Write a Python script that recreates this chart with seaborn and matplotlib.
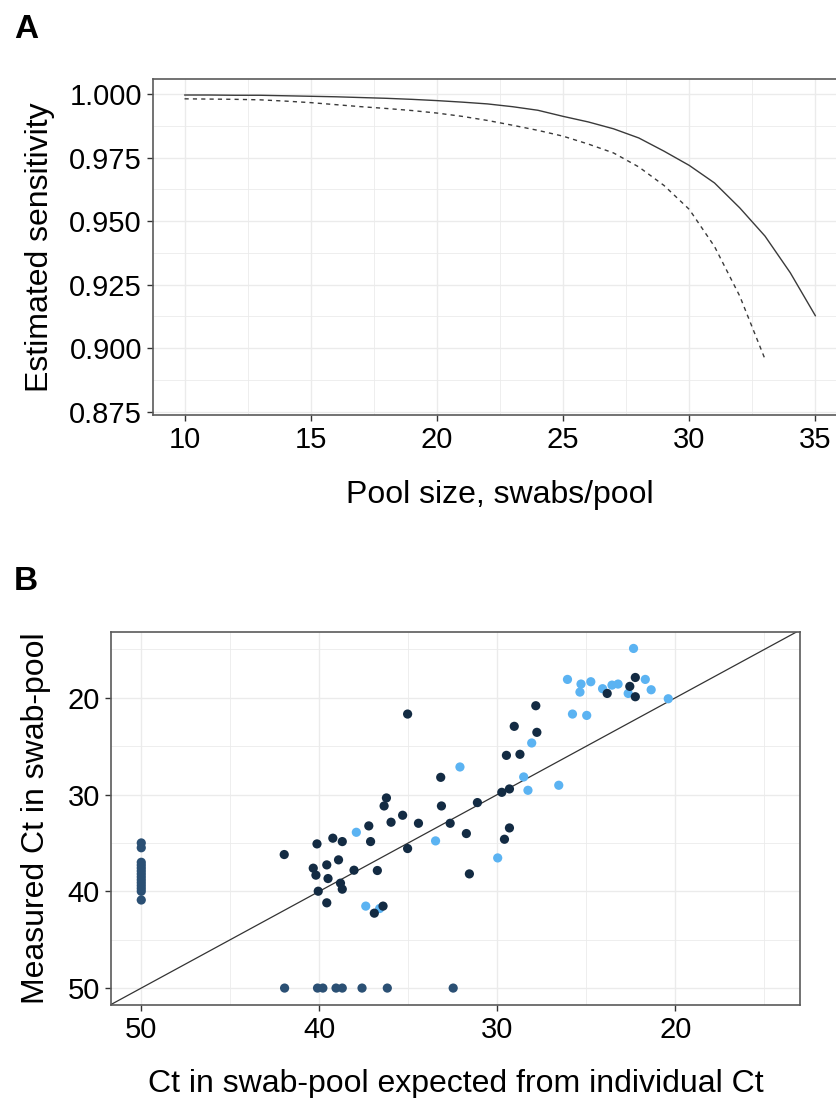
import numpy as np
import pandas as pd
import matplotlib
matplotlib.use("Agg")
import matplotlib.pyplot as plt
from matplotlib.ticker import MultipleLocator
import seaborn as sns

# ---------------- Panel A data ----------------
pool_size_solid = list(range(10, 36))
sens_solid = [0.9996, 0.9996, 0.9995, 0.9995, 0.9993, 0.9991, 0.9989, 0.9986,
              0.9983, 0.9979, 0.9974, 0.9968, 0.9961, 0.9950, 0.9936, 0.9912,
              0.9890, 0.9863, 0.9827, 0.9775, 0.9719, 0.9650, 0.9552, 0.9441,
              0.9297, 0.9127]
pool_size_dashed = list(range(10, 34))
sens_dashed = [0.9981, 0.9980, 0.9979, 0.9977, 0.9972, 0.9966, 0.9958, 0.9950,
               0.9943, 0.9935, 0.9925, 0.9912, 0.9896, 0.9877, 0.9857, 0.9834,
               0.9803, 0.9768, 0.9713, 0.9640, 0.9546, 0.9400, 0.9205, 0.8957]

# ---------------- Panel B data ----------------
light_x = [22.35, 26.06, 25.30, 24.75, 25.36, 24.09, 23.56, 23.22, 22.65, 21.69,
           21.36, 20.40, 25.78, 24.98, 28.07, 32.10, 28.52, 28.28, 26.55, 37.92,
           33.47, 29.98, 37.39, 36.61]
light_y = [14.90, 18.10, 18.58, 18.34, 19.41, 19.06, 18.69, 18.58, 19.55, 18.10,
           19.17, 20.10, 21.68, 21.82, 24.67, 27.15, 28.18, 29.56, 29.04, 33.90,
           34.79, 36.55, 41.53, 41.78]
dark_x = [22.25, 22.56, 23.83, 22.25, 35.04, 27.84, 29.05, 27.78, 29.49, 28.73,
          33.18, 29.75, 29.32, 31.12, 36.23, 36.36, 33.14, 35.32, 35.97, 34.43,
          32.65, 37.22, 31.74, 29.32, 29.60, 40.13, 39.24, 38.71, 37.12, 35.04,
          41.97, 39.58, 38.92, 40.34, 40.19, 39.51, 38.05, 36.74, 38.81, 38.71,
          40.06, 39.58, 31.57, 36.42, 36.91]
dark_y = [17.90, 18.82, 19.55, 19.89, 21.68, 20.82, 22.95, 23.57, 25.95, 25.84,
          28.22, 29.77, 29.42, 30.83, 30.35, 31.18, 31.18, 32.14, 32.86, 32.97,
          32.97, 33.24, 34.03, 33.45, 34.62, 35.10, 34.51, 34.86, 34.86, 35.58,
          36.20, 37.27, 36.75, 37.61, 38.33, 38.68, 37.82, 37.85, 39.16, 39.78,
          39.99, 41.19, 38.20, 41.53, 42.26]
cens_pool_x = [41.95, 40.10, 39.80, 39.06, 38.71, 37.60, 36.18, 32.48]
cens_pool_y = [50] * len(cens_pool_x)
cens_ind_y = [35.0, 35.5, 37.0, 37.3, 37.6, 37.9, 38.2, 38.5, 38.8, 39.1,
              39.4, 39.7, 40.0, 40.9]
cens_ind_x = [50] * len(cens_ind_y)

# ---------------- style ----------------
sns.set_theme(style="white")
plt.rcParams['font.family'] = ['Liberation Sans', 'DejaVu Sans']
plt.rcParams['text.color'] = 'black'
plt.rcParams['axes.labelcolor'] = 'black'

W, H = 836, 1098
fig = plt.figure(figsize=(W / 100, H / 100), dpi=100)

def px_axes(l, t, r, b):
    return fig.add_axes([l / W, 1 - b / H, (r - l) / W, (b - t) / H])

GRID = "#EBEBEB"
BORDER = "#5a5a5a"
TICK_FS = 21
LAB_FS = 23

def style_axes(ax):
    for s in ax.spines.values():
        s.set_color(BORDER)
        s.set_linewidth(1.2)
    ax.grid(True, which="major", color=GRID, linewidth=1.0)
    ax.grid(True, which="minor", color=GRID, linewidth=0.6)
    ax.set_axisbelow(True)
    ax.tick_params(axis="both", which="major", direction="out", length=4,
                   width=1.0, color="#333333", labelsize=TICK_FS,
                   labelcolor="black", pad=4, bottom=True, left=True)
    ax.tick_params(axis="both", which="minor", length=0)

# ---------------- Panel A ----------------
axA = px_axes(153, 79, 847, 415)
dfA = pd.concat([
    pd.DataFrame({"pool": pool_size_solid, "sens": sens_solid, "kind": "solid"}),
    pd.DataFrame({"pool": pool_size_dashed, "sens": sens_dashed, "kind": "dashed"}),
])
sns.lineplot(data=dfA, x="pool", y="sens", style="kind",
             dashes={"solid": "", "dashed": (3, 3)}, color="#3a3a3a",
             linewidth=1.0, legend=False, ax=axA)
axA.set_xlim(8.75, 36.25)
axA.set_ylim(0.8737, 1.0059)
axA.xaxis.set_major_locator(MultipleLocator(5))
axA.xaxis.set_minor_locator(MultipleLocator(2.5))
axA.yaxis.set_major_locator(MultipleLocator(0.025))
axA.yaxis.set_minor_locator(MultipleLocator(0.0125))
axA.yaxis.set_major_formatter(matplotlib.ticker.FormatStrFormatter("%.3f"))
style_axes(axA)
axA.set_xlabel("Pool size, swabs/pool", fontsize=LAB_FS, labelpad=19)
axA.set_ylabel("Estimated sensitivity", fontsize=LAB_FS, labelpad=10)

# ---------------- Panel B ----------------
axB = px_axes(111, 632, 800, 1005)
dfB = pd.concat([
    pd.DataFrame({"x": light_x, "y": light_y, "g": "light"}),
    pd.DataFrame({"x": dark_x, "y": dark_y, "g": "dark"}),
    pd.DataFrame({"x": cens_pool_x, "y": cens_pool_y, "g": "cens"}),
    pd.DataFrame({"x": cens_ind_x, "y": cens_ind_y, "g": "cens"}),
])
palette = {"light": "#5BB3F2", "dark": "#132B43", "cens": "#2B5074"}
sns.scatterplot(data=dfB, x="x", y="y", hue="g", palette=palette, s=44,
                linewidth=0, legend=False, ax=axB, zorder=3)
axB.axline((20, 20), slope=1, color="#333333", linewidth=0.9, zorder=2)
axB.set_xlim(51.7, 13.0)
axB.set_ylim(51.75, 13.2)
axB.xaxis.set_major_locator(MultipleLocator(10))
axB.xaxis.set_minor_locator(MultipleLocator(5))
axB.yaxis.set_major_locator(MultipleLocator(10))
axB.yaxis.set_minor_locator(MultipleLocator(5))
style_axes(axB)
axB.set_xlabel("Ct in swab-pool expected from individual Ct", fontsize=LAB_FS, labelpad=18)
axB.set_ylabel("Measured Ct in swab-pool", fontsize=LAB_FS, labelpad=12)

# panel letters
fig.text(14 / W, 1 - 30 / H, "A", fontsize=24, fontweight="bold", va="center", ha="left")
fig.text(14 / W, 1 - 582 / H, "B", fontsize=24, fontweight="bold", va="center", ha="left")

fig.savefig("out.png", dpi=100)
